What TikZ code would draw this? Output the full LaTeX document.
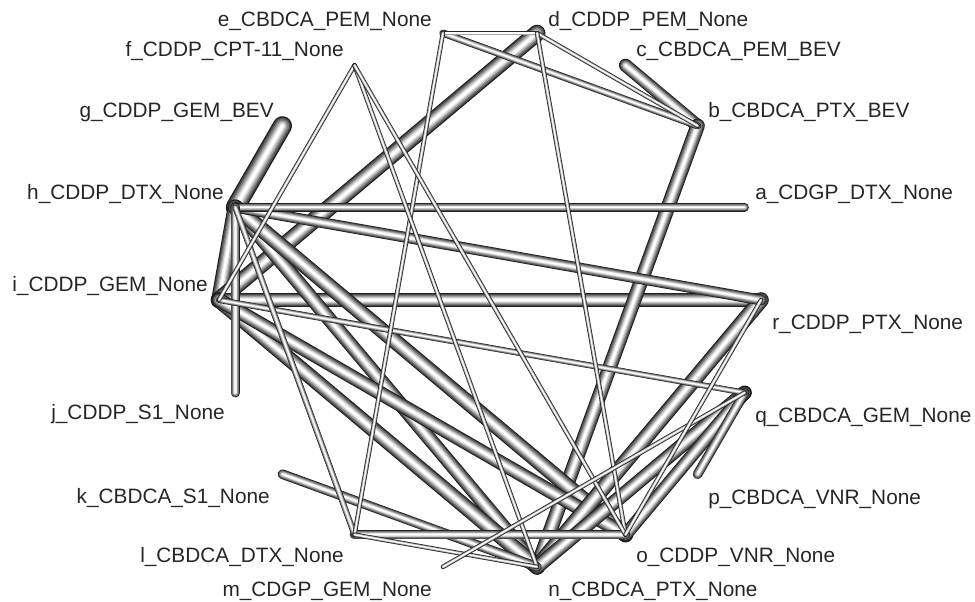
\documentclass[tikz,border=0pt]{standalone}
\usepackage{fontspec}
\setmainfont{Liberation Sans}
\begin{document}
\begin{tikzpicture}[x=0.75pt,y=0.75pt,
  tube/.style={line cap=round, line join=round, draw=black!88, line width={1.2*#1*0.75pt},
    postaction={draw=black!70, line width={0.86*1.2*#1*0.75pt}},
    postaction={draw=black!54, line width={0.71*1.2*#1*0.75pt}},
    postaction={draw=black!38, line width={0.56*1.2*#1*0.75pt}},
    postaction={draw=black!22, line width={0.41*1.2*#1*0.75pt}},
    postaction={draw=black!8, line width={0.27*1.2*#1*0.75pt}},
    postaction={draw=white, line width={0.13*1.2*#1*0.75pt}}},
  thinline/.style={line cap=round, draw=black!85, line width=3.4pt,
    postaction={draw=black!35, line width=2.2pt},
    postaction={draw=white, line width=1pt}},
  lab/.style={font=\fontsize{15.6}{18}\selectfont, text=black!85, inner sep=0pt}]
\useasboundingbox (0,0) rectangle (975,602);
\fill[white] (0,0) rectangle (975,602);
\coordinate (O) at (490,302);
\foreach \n/\ang in {r/0,a/20,b/40,c/60,d/80,e/100,f/120,g/140,h/160,i/180,j/200,k/220,l/240,m/260,n/280,o/300,p/320,q/340}
  {\path (O) ++(\ang:271) coordinate (\n);}
% thick edges
\draw[tube=16] (g) -- (h);
\draw[tube=13] (h) -- (i);
\draw[tube=14] (d) -- (i);
\draw[tube=12] (i) -- (r);
\draw[tube=11] (b) -- (c);
\draw[tube=12] (b) -- (n);
\draw[tube=12] (h) -- (n);
\draw[tube=13] (h) -- (o);
\draw[tube=13] (i) -- (n);
\draw[tube=12] (i) -- (o);
\draw[tube=13] (r) -- (n);
\draw[tube=12] (q) -- (n);
\draw[tube=11] (q) -- (o);
% medium edges
\draw[tube=9] (h) -- (r);
\draw[tube=7] (h) -- (a);
\draw[tube=8] (h) -- (j);
\draw[tube=8] (k) -- (n);
\draw[tube=8] (l) -- (o);
\draw[tube=8] (p) -- (q);
\draw[tube=6] (e) -- (b);
\draw[tube=5] (i) -- (q);
\draw[tube=5] (h) -- (l);
% thin edges
\draw[thinline] (d) -- (b);
\draw[thinline] (e) -- (d);
\draw[thinline] (d) -- (o);
\draw[thinline] (e) -- (l);
\draw[thinline] (f) -- (i);
\draw[thinline] (f) -- (n);
\draw[thinline] (f) -- (o);
\draw[thinline] (l) -- (n);
\draw[thinline] (m) -- (q);
\draw[thinline] (o) -- (r);
% labels
\node[lab, anchor=base east] (le) at (432,575) {e\_CBDCA\_PEM\_None};
\node[lab, anchor=base west] (ld) at (548,575) {d\_CDDP\_PEM\_None};
\node[lab, anchor=base east] (lf) at (344,545) {f\_CDDP\_CPT-11\_None};
\node[lab, anchor=base west] (lc) at (636,545) {c\_CBDCA\_PEM\_BEV};
\node[lab, anchor=base east] (lg) at (274,484) {g\_CDDP\_GEM\_BEV};
\node[lab, anchor=base west] (lb) at (708,484) {b\_CBDCA\_PTX\_BEV};
\node[lab, anchor=base east] (lh) at (224,402) {h\_CDDP\_DTX\_None};
\node[lab, anchor=base west] (la) at (755,402) {a\_CDGP\_DTX\_None};
\node[lab, anchor=base east] (li) at (208,310) {i\_CDDP\_GEM\_None};
\node[lab, anchor=base west] (lr) at (772,272) {r\_CDDP\_PTX\_None};
\node[lab, anchor=base east] (lj) at (225,182) {j\_CDDP\_S1\_None};
\node[lab, anchor=base west] (lq) at (755,179) {q\_CBDCA\_GEM\_None};
\node[lab, anchor=base east] (lk) at (270,98) {k\_CBDCA\_S1\_None};
\node[lab, anchor=base west] (lp) at (708,97) {p\_CBDCA\_VNR\_None};
\node[lab, anchor=base east] (ll) at (344,39) {l\_CBDCA\_DTX\_None};
\node[lab, anchor=base west] (lo) at (636,39) {o\_CDDP\_VNR\_None};
\node[lab, anchor=base east] (lm) at (432,5) {m\_CDGP\_GEM\_None};
\node[lab, anchor=base west] (ln) at (548,5) {n\_CBDCA\_PTX\_None};
\end{tikzpicture}
\end{document}
